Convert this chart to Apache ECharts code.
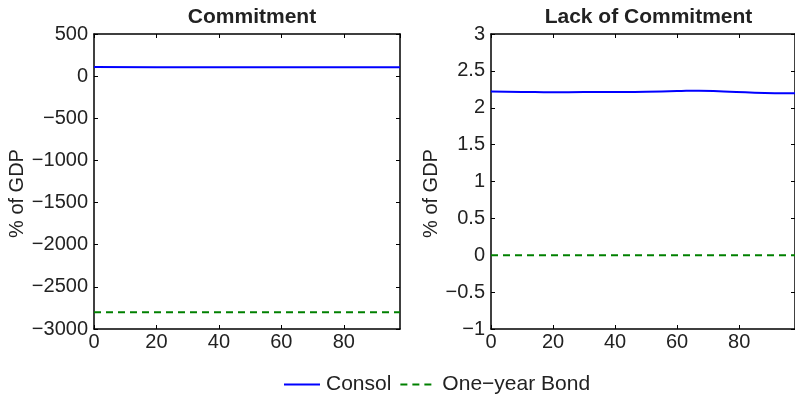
<!DOCTYPE html>
<html>
<head>
<meta charset="utf-8">
<script src="https://cdn.jsdelivr.net/npm/echarts@6/dist/echarts.min.js"></script>
<style>
  html, body { margin: 0; padding: 0; background: #fff; }
  #chart { width: 795px; height: 397px; }
</style>
</head>
<body>
<div id="chart"></div>
<script>
// periods shown on the x axis
var xMax = 98;
var xTicks = 20;

// Commitment panel
var commitConsol = [[0, 107], [20, 106], [40, 106], [60, 106], [80, 106], [98, 106]];
var commitBond = [[0, -2800], [98, -2800]];

// Lack of Commitment panel
var lackConsol = [[0, 2.22], [10, 2.215], [20, 2.21], [30, 2.212], [40, 2.212], [50, 2.218],
                  [60, 2.226], [67, 2.232], [75, 2.22], [85, 2.205], [98, 2.197]];
var lackBond = [[0, 0], [98, 0]];

var titles = ['Commitment', 'Lack of Commitment'];
var yRanges = [[-3000, 500, 500], [-1, 3, 0.5]];

var font = 'Liberation Sans, Arial, Helvetica, sans-serif';
var blue = '#0000ff';
var green = '#008000';

function fmt(v) {
    return String(v).replace('-', '\u2212');
}

var chart = echarts.init(document.getElementById('chart'));

var grids = [
    { left: 94, top: 34, width: 306, height: 295 },
    { left: 491, top: 34, width: 305, height: 295 }
];

var xAxes = [], yAxes = [];
grids.forEach(function (g, i) {
    var baseX = {
        type: 'value', gridIndex: i, min: 0, max: xMax, interval: xTicks,
        axisLine: { show: true, onZero: false, lineStyle: { color: '#000', width: 1.5 } },
        axisTick: { show: true, inside: true, length: 4, lineStyle: { color: '#000' } },
        splitLine: { show: false }
    };
    xAxes.push(Object.assign({}, baseX, {
        position: 'bottom',
        axisLabel: { show: true, color: '#222', fontSize: 20, fontFamily: font, margin: 3,
                     showMaxLabel: false, formatter: fmt }
    }));
    xAxes.push(Object.assign({}, baseX, { position: 'top', axisLabel: { show: false } }));

    var r = yRanges[i];
    var baseY = {
        type: 'value', gridIndex: i, min: r[0], max: r[1], interval: r[2],
        axisLine: { show: true, onZero: false, lineStyle: { color: '#000', width: 1.5 } },
        axisTick: { show: true, inside: true, length: 4, lineStyle: { color: '#000' } },
        splitLine: { show: false }
    };
    yAxes.push(Object.assign({}, baseY, {
        position: 'left',
        name: '% of GDP', nameLocation: 'middle', nameRotate: 90,
        nameGap: i === 0 ? 67 : 50,
        nameTextStyle: { color: '#222', fontSize: 20, fontFamily: font, padding: [0, 24, 0, 0] },
        axisLabel: { show: true, color: '#222', fontSize: 20, fontFamily: font, margin: 6,
                     formatter: fmt }
    }));
    yAxes.push(Object.assign({}, baseY, { position: 'right', name: '', axisLabel: { show: false } }));
});

var option = {
    animation: false,
    backgroundColor: '#fff',
    title: titles.map(function (t, i) {
        return {
            text: t, left: grids[i].left + grids[i].width / 2, top: 2, textAlign: 'center',
            textStyle: { fontSize: 21, fontWeight: 'bold', color: '#222', fontFamily: font }
        };
    }),
    grid: grids,
    xAxis: xAxes,
    yAxis: yAxes,
    legend: {
        top: 369, left: 278, itemWidth: 36, itemHeight: 14, itemGap: 8,
        itemStyle: { opacity: 0 },
        textStyle: { fontSize: 21, color: '#222', fontFamily: font, padding: [0, 0, 0, 1] },
        data: ['Consol', 'One\u2212year Bond']
    },
    series: [
        { name: 'Consol', type: 'line', xAxisIndex: 0, yAxisIndex: 0, data: commitConsol,
          showSymbol: false, symbol: 'none', smooth: true,
          lineStyle: { color: blue, width: 2 }, itemStyle: { color: blue } },
        { name: 'One\u2212year Bond', type: 'line', xAxisIndex: 0, yAxisIndex: 0, data: commitBond,
          showSymbol: false, symbol: 'none',
          lineStyle: { color: green, width: 2, type: [7, 5] }, itemStyle: { color: green } },
        { name: 'Consol', type: 'line', xAxisIndex: 2, yAxisIndex: 2, data: lackConsol,
          showSymbol: false, symbol: 'none', smooth: true,
          lineStyle: { color: blue, width: 2 }, itemStyle: { color: blue } },
        { name: 'One\u2212year Bond', type: 'line', xAxisIndex: 2, yAxisIndex: 2, data: lackBond,
          showSymbol: false, symbol: 'none',
          lineStyle: { color: green, width: 2, type: [7, 5] }, itemStyle: { color: green } }
    ]
};

chart.setOption(option);
</script>
</body>
</html>
